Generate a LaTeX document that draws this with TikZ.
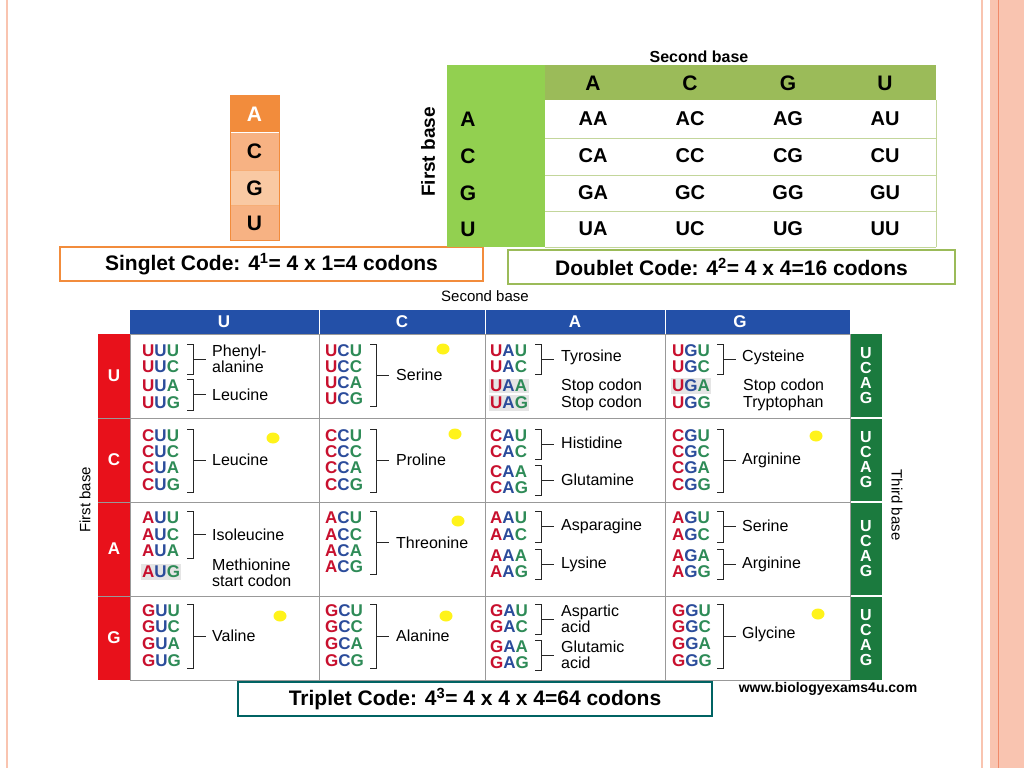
\documentclass[tikz,border=0pt]{standalone}
\usepackage{fontspec}
\setmainfont{Liberation Sans}
\definecolor{salmon}{HTML}{F9C4B0}
\definecolor{salmond}{HTML}{F08A6A}
\definecolor{cr}{HTML}{C8102E}
\definecolor{cb}{HTML}{2B4C9B}
\definecolor{cg}{HTML}{2E8B57}
\definecolor{hblue}{HTML}{2350A8}
\definecolor{hred}{HTML}{E8111B}
\definecolor{hgreen}{HTML}{1B7A3E}
\definecolor{dgreen}{HTML}{9BBB59}
\definecolor{lgreen}{HTML}{92D050}
\definecolor{orA}{HTML}{F28C3C}
\definecolor{orB}{HTML}{F7B283}
\definecolor{orC}{HTML}{F9C9A3}
\begin{document}
\begin{tikzpicture}[x=1pt,y=-1pt,
  cod/.style={anchor=west,inner sep=0pt,font=\fontsize{17}{17}\selectfont\bfseries},
  lab/.style={anchor=west,inner sep=0pt,font=\fontsize{16}{16}\selectfont,align=left},
  br/.style={line width=1pt,black!85},
  grid/.style={draw=black!40,line width=0.8pt},
  big/.style={font=\fontsize{21}{21}\selectfont\bfseries,text=black},
  dot/.style={fill=yellow!90!white,draw=none}]
\useasboundingbox (0,0) rectangle (1024,768);
\fill[white] (0,0) rectangle (1024,768);
% page frame
\draw[salmon,line width=1.5pt] (7,0) -- (7,768);
\draw[salmon,line width=1.5pt] (982,0) -- (982,768);
\fill[salmon] (990,0) rectangle (1024,768);
\draw[salmond,line width=0.8pt] (998,0) -- (998,768);
\newcommand\cod[5]{\node[cod] at (#1,#2) {\textcolor{cr}{#3}\textcolor{cb}{#4}\textcolor{cg}{#5}};}
\newcommand\hcod[5]{\node[cod,fill=black!10,inner sep=1.5pt] at ({#1-1.5},#2) {\textcolor{cr}{#3}\textcolor{cb}{#4}\textcolor{cg}{#5}};}
\newcommand\brk[3]{\draw[br] (#1,{#2-7}) -- ({#1+6},{#2-7}) -- ({#1+6},{#3+7}) -- (#1,{#3+7});
  \draw[br] ({#1+6},{(#2+#3)/2}) -- ({#1+19},{(#2+#3)/2});}
% ---- singlet
\fill[orA] (230,95) rectangle (279,132);
\fill[orB] (230,132) rectangle (279,170);
\fill[orC] (230,170) rectangle (279,205);
\fill[orB] (230,205) rectangle (279,240);
\draw[white,line width=1pt] (230,132) -- (279,132);
\draw[orA!70,line width=0.5pt] (230,170) -- (279,170) (230,205) -- (279,205);
\draw[orA,line width=0.8pt] (230,95) rectangle (279,240);
\node[big,text=white] (s1) at (254.5,114) {A};
\node[big] (s2) at (254.5,151) {C};
\node[big] (s3) at (254.5,188) {G};
\node[big] (s4) at (254.5,223) {U};
\node[draw=orA,line width=2pt,minimum width=423pt,minimum height=34pt,inner sep=0pt,font=\fontsize{21}{21}\selectfont\bfseries] (sb) at (271.5,264) {Singlet Code: 4\textsuperscript{1}= 4 x 1=4 codons};
% ---- doublet
\fill[dgreen] (447,65) rectangle (936,100);
\fill[lgreen] (447,65) rectangle (545,247);
\draw[dgreen!60,line width=0.8pt] (545,138) -- (936,138) (545,175) -- (936,175) (545,211) -- (936,211);
\draw[dgreen!60,line width=0.8pt] (545,247) -- (936,247) (936,100) -- (936,247);
\node[font=\fontsize{16}{16}\selectfont\bfseries] (d2) at (699,57) {Second base};
\node[font=\fontsize{19}{19}\selectfont\bfseries,rotate=90] (d1) at (428,152) {First base};
\foreach \c/\x in {A/593,C/690,G/788,U/885} \node[big] at (\x,83) {\c};
\foreach \r/\y in {A/119,C/156,G/193,U/229} {
  \node[big] at (468,\y) {\r};
  \foreach \c/\x in {A/593,C/690,G/788,U/885} \node[big,font=\fontsize{20}{20}\selectfont\bfseries] at (\x,\y) {\r\c};
}
\node[draw=dgreen,line width=2pt,minimum width=447pt,minimum height=34pt,inner sep=0pt,font=\fontsize{21}{21}\selectfont\bfseries] (db) at (731.5,267) {Doublet Code: 4\textsuperscript{2}= 4 x 4=16 codons};
% ---- triplet
\node[font=\fontsize{15}{15}\selectfont] (t2) at (485,296) {Second base};
\fill[hblue] (130,310) rectangle (850,334);
\fill[hred] (98,334) rectangle (130,680);
\fill[hgreen] (850,334) rectangle (882,680);
\draw[white,line width=1.5pt] (850,418) -- (882,418) (850,502) -- (882,502) (850,596) -- (882,596);
\draw[white,line width=1pt] (319,310) -- (319,334) (485,310) -- (485,334) (665,310) -- (665,334);
\draw[grid] (130,334) rectangle (850,680);
\draw[grid] (319,334) -- (319,680) (485,334) -- (485,680) (665,334) -- (665,680);
\draw[grid] (98,418) -- (850,418) (98,502) -- (850,502) (98,596) -- (850,596);
\foreach \c/\x in {U/224,C/402,A/575,G/740} \node[text=white,font=\fontsize{17}{17}\selectfont\bfseries] at (\x,322) {\c};
\foreach \c/\y in {U/376,C/460,A/549,G/638} {
  \node[text=white,font=\fontsize{17}{17}\selectfont\bfseries] at (114,\y) {\c};
  \node[text=white,font=\fontsize{16}{16}\selectfont\bfseries,align=center,inner sep=0pt] at (866,\y) {U\\[-1pt]C\\[-1pt]A\\[-1pt]G};
}
\node[font=\fontsize{15}{15}\selectfont,rotate=90] (t1) at (85,500) {First base};
\node[font=\fontsize{15}{15}\selectfont,rotate=-90] (t3) at (897,505) {Third base};
% dots
\foreach \x/\y in {443/349,273/438,455/434,816/436,458/521,280/616,446/616,818/614} \fill[dot] (\x,\y) ellipse (6.5 and 5.5);
% row U
\cod{142}{351}UUU \cod{142}{367}UUC \brk{187}{351}{367}
\node[lab] at (212,359) {Phenyl-\\alanine};
\cod{142}{386}UUA \cod{142}{403}UUG \brk{187}{386}{403}
\node[lab] at (212,395) {Leucine};
\cod{325}{351}UCU \cod{325}{367}UCC \cod{325}{383}UCA \cod{325}{399}UCG \brk{370}{351}{399}
\node[lab] at (396,375) {Serine};
\cod{490}{351}UAU \cod{490}{367}UAC \brk{535}{351}{367}
\node[lab] at (561,357) {Tyrosine};
\hcod{490}{386}UAA \hcod{490}{403}UAG
\node[lab] at (561,386) {Stop codon}; \node[lab] at (561,403) {Stop codon};
\cod{672}{351}UGU \cod{672}{367}UGC \brk{717}{351}{367}
\node[lab] at (742,357) {Cysteine};
\hcod{672}{386}UGA \cod{672}{403}UGG
\node[lab] at (743,386) {Stop codon}; \node[lab] at (743,403) {Tryptophan};
% row C
\cod{142}{436}CUU \cod{142}{452}CUC \cod{142}{468}CUA \cod{142}{485}CUG \brk{187}{436}{485}
\node[lab] at (212,460) {Leucine};
\cod{325}{436}CCU \cod{325}{452}CCC \cod{325}{468}CCA \cod{325}{485}CCG \brk{370}{436}{485}
\node[lab] at (396,460) {Proline};
\cod{490}{436}CAU \cod{490}{452}CAC \brk{535}{436}{452}
\node[lab] at (561,443) {Histidine};
\cod{490}{472}CAA \cod{490}{488}CAG \brk{535}{472}{488}
\node[lab] at (561,480) {Glutamine};
\cod{672}{436}CGU \cod{672}{452}CGC \cod{672}{468}CGA \cod{672}{485}CGG \brk{717}{436}{485}
\node[lab] at (742,460) {Arginine};
% row A
\cod{142}{518}AUU \cod{142}{535}AUC \cod{142}{551}AUA \brk{187}{518}{551}
\node[lab] at (212,535) {Isoleucine};
\hcod{142}{572}AUG
\node[lab] at (212,573) {Methionine\\start codon};
\cod{325}{518}ACU \cod{325}{535}ACC \cod{325}{551}ACA \cod{325}{567}ACG \brk{370}{518}{567}
\node[lab] at (396,543) {Threonine};
\cod{490}{518}AAU \cod{490}{535}AAC \brk{535}{518}{535}
\node[lab] at (561,526) {Asparagine};
\cod{490}{556}AAA \cod{490}{572}AAG \brk{535}{556}{572}
\node[lab] at (561,564) {Lysine};
\cod{672}{518}AGU \cod{672}{535}AGC \brk{717}{518}{535}
\node[lab] at (742,526) {Serine};
\cod{672}{556}AGA \cod{672}{572}AGG \brk{717}{556}{572}
\node[lab] at (742,564) {Arginine};
% row G
\cod{142}{611}GUU \cod{142}{627}GUC \cod{142}{644}GUA \cod{142}{661}GUG \brk{187}{611}{661}
\node[lab] at (212,636) {Valine};
\cod{325}{611}GCU \cod{325}{627}GCC \cod{325}{644}GCA \cod{325}{661}GCG \brk{370}{611}{661}
\node[lab] at (396,636) {Alanine};
\cod{490}{611}GAU \cod{490}{627}GAC \brk{535}{611}{627}
\node[lab] at (561,619) {Aspartic\\acid};
\cod{490}{647}GAA \cod{490}{663}GAG \brk{535}{647}{663}
\node[lab] at (561,655) {Glutamic\\acid};
\cod{672}{611}GGU \cod{672}{627}GGC \cod{672}{644}GGA \cod{672}{661}GGG \brk{717}{611}{661}
\node[lab] at (742,634) {Glycine};
\node[draw=teal!70!cyan!60!black,line width=2pt,minimum width=474pt,minimum height=34pt,inner sep=0pt,font=\fontsize{21}{21}\selectfont\bfseries] (tb) at (475,699) {Triplet Code: 4\textsuperscript{3}= 4 x 4 x 4=64 codons};
\node[font=\fontsize{14}{14}\selectfont\bfseries] (www) at (828,689) {www.biologyexams4u.com};
\end{tikzpicture}
\end{document}
